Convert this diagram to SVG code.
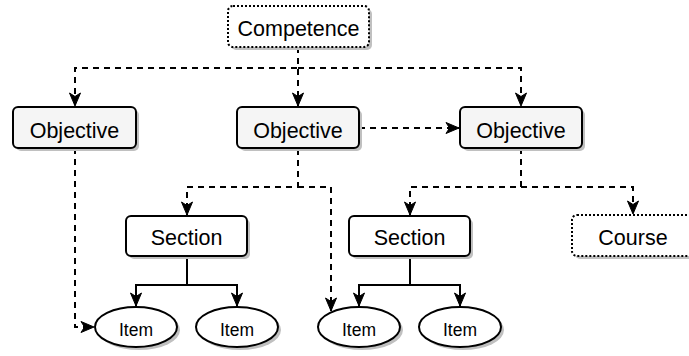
<svg xmlns="http://www.w3.org/2000/svg" width="689" height="356" viewBox="0 0 689 356">
  <style>
    text { font-family: "Liberation Sans", Arial, Helvetica, sans-serif; font-size: 21.5px; fill: #000; text-anchor: middle; }
    text.small { font-size: 17.5px; }
    .shadow { fill: #c0c0c0; stroke: none; }
    .box { stroke: #000; stroke-width: 2; }
    .obj { fill: #f5f5f5; }
    .plain { fill: #fff; }
    .dotted { fill: #fff; stroke-dasharray: 2 2; }
    .line { fill: none; stroke: #000; stroke-width: 2; }
    .dash { stroke-dasharray: 6 5; }
  </style>
  <defs>
    <marker id="arrow" markerUnits="strokeWidth" markerWidth="8" markerHeight="8" viewBox="0 0 16 16" refX="14" refY="8" orient="auto">
      <path d="M1,2.5 L14,8 L1,13.5 L4.5,8 Z" fill="#000" stroke="#000" stroke-width="1"/>
    </marker>
  </defs>

  <!-- connectors: dashed links between levels, solid links from sections to items -->
  <g id="connectors">
    <path class="line dash" marker-end="url(#arrow)" d="M298,47 V68 H75 V106"/>
    <path class="line dash" marker-end="url(#arrow)" d="M298,47 V106"/>
    <path class="line dash" marker-end="url(#arrow)" d="M298,68 H521 V106"/>
    <path class="line dash" marker-end="url(#arrow)" d="M359,128 H459"/>
    <path class="line dash" marker-end="url(#arrow)" d="M298,149 V187 H187 V215"/>
    <path class="line dash" marker-end="url(#arrow)" d="M298,187 H331 V311"/>
    <path class="line dash" marker-end="url(#arrow)" d="M521,148 V187 H410 V215"/>
    <path class="line dash" marker-end="url(#arrow)" d="M521,187 H633 V214"/>
    <path class="line dash" marker-end="url(#arrow)" d="M75,148 V327 H94"/>
    <path class="line" marker-end="url(#arrow)" d="M187,256 V285 H136 V306"/>
    <path class="line" marker-end="url(#arrow)" d="M187,285 H237 V306"/>
    <path class="line" marker-end="url(#arrow)" d="M410,257 V285 H359 V306"/>
    <path class="line" marker-end="url(#arrow)" d="M410,285 H460 V306"/>
  </g>

  <!-- nodes -->
  <g id="competence">
    <rect class="shadow" x="231" y="9" width="141" height="41" rx="5"/>
    <rect class="box dotted" x="228" y="6" width="141" height="41" rx="5"/>
    <text x="298.5" y="36">Competence</text>
  </g>

  <g id="objective-1">
    <rect class="shadow" x="16" y="110" width="123" height="41" rx="5"/>
    <rect class="box obj" x="13" y="107" width="123" height="41" rx="5"/>
    <text x="74.5" y="138">Objective</text>
  </g>

  <g id="objective-2">
    <rect class="shadow" x="240" y="110" width="122" height="41" rx="5"/>
    <rect class="box obj" x="237" y="107" width="122" height="41" rx="5"/>
    <text x="298" y="138">Objective</text>
  </g>

  <g id="objective-3">
    <rect class="shadow" x="463" y="110" width="122" height="41" rx="5"/>
    <rect class="box obj" x="460" y="107" width="122" height="41" rx="5"/>
    <text x="521" y="138">Objective</text>
  </g>

  <g id="section-1">
    <rect class="shadow" x="129" y="219" width="121" height="40" rx="5"/>
    <rect class="box plain" x="126" y="216" width="121" height="40" rx="5"/>
    <text x="186.5" y="245">Section</text>
  </g>

  <g id="section-2">
    <rect class="shadow" x="352" y="219" width="121" height="40" rx="5"/>
    <rect class="box plain" x="349" y="216" width="121" height="40" rx="5"/>
    <text x="409.5" y="245">Section</text>
  </g>

  <g id="course">
    <rect class="shadow" x="575" y="218" width="122" height="41" rx="5"/>
    <rect class="box dotted" x="572" y="215" width="122" height="41" rx="5"/>
    <text x="633" y="245">Course</text>
  </g>

  <g id="item-1">
    <ellipse class="shadow" cx="139" cy="330" rx="41" ry="20"/>
    <ellipse class="box plain" cx="136" cy="327" rx="41" ry="20"/>
    <text class="small" x="136" y="336">Item</text>
  </g>

  <g id="item-2">
    <ellipse class="shadow" cx="240" cy="330" rx="41" ry="20"/>
    <ellipse class="box plain" cx="237" cy="327" rx="41" ry="20"/>
    <text class="small" x="237" y="336">Item</text>
  </g>

  <g id="item-3">
    <ellipse class="shadow" cx="362" cy="330" rx="41" ry="20"/>
    <ellipse class="box plain" cx="359" cy="327" rx="41" ry="20"/>
    <text class="small" x="359" y="336">Item</text>
  </g>

  <g id="item-4">
    <ellipse class="shadow" cx="463" cy="330" rx="41" ry="20"/>
    <ellipse class="box plain" cx="460" cy="327" rx="41" ry="20"/>
    <text class="small" x="460" y="336">Item</text>
  </g>
</svg>
